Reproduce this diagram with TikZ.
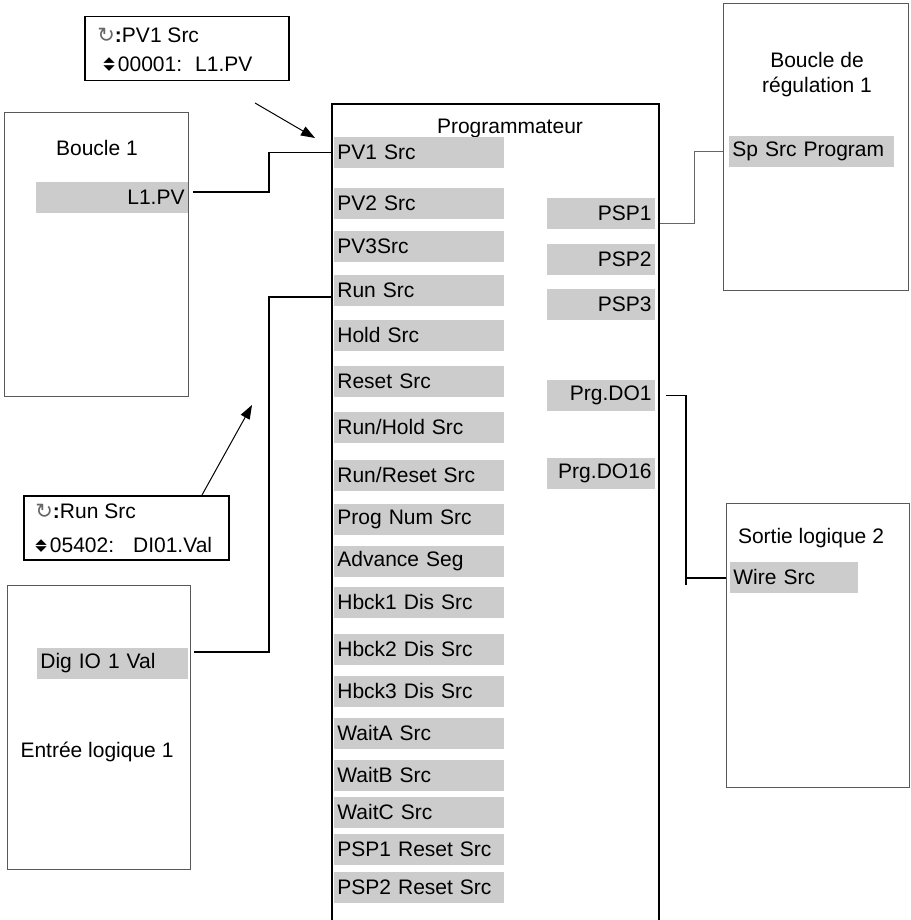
\documentclass[tikz,border=0pt]{standalone}
\usepackage{fontspec}
\usepackage{graphicx}
\setmainfont{Liberation Sans}
\newfontfamily\dejavu{DejaVu Sans}
\usepackage{tikz}
\usetikzlibrary{arrows.meta}

\definecolor{barfill}{RGB}{204,204,204}
\newcommand{\boucleicon}{{\dejavu\color{black!60}↻}}
\newcommand{\fleches}{{\dejavu\fontsize{7.5}{7.5}\selectfont%
  \rlap{\raisebox{4.2pt}{\scalebox{1}[0.5]{▲}}}\raisebox{0.6pt}{\scalebox{1}[0.5]{▼}}}}

\tikzset{
  bar/.style={fill=barfill, inner xsep=1.5pt, inner ysep=0pt, minimum height=15.5pt},
  lbar/.style={bar, anchor=west, text width=#1, align=left},
  rbar/.style={bar, anchor=east, text width=#1, align=right},
  block/.style={draw=black!65, line width=0.5pt, inner sep=0pt, anchor=north west},
  callout/.style={draw, line width=0.75pt, inner sep=0pt, anchor=north west},
  txt/.style={anchor=west, inner sep=0pt},
  wire/.style={line width=0.7pt},
  pointer/.style={-{Triangle[length=7pt,width=5pt]}, line width=0.5pt}
}

\begin{document}
\begin{tikzpicture}[x=0.5pt, y=-0.5pt, font=\fontsize{10.5}{12.5}\selectfont]
    \useasboundingbox (0,0) rectangle (910,920);

    % programmateur
    \node[draw, line width=1pt, inner sep=0pt, anchor=north west,
          minimum width=163.5pt, minimum height=415pt] (prog) at (331,103) {};
    \node at (510,128) {Programmateur};
    \foreach \y/\n/\t in {152.5/pv1/PV1 Src, 203/pv2/PV2 Src, 246.5/pv3/PV3Src,
        290/run/Run Src, 335/hold/Hold Src, 381.5/reset/Reset Src,
        427/runhold/{Run/Hold Src}, 475/runreset/{Run/Reset Src},
        519/prognum/Prog Num Src, 561/advance/Advance Seg,
        602/hbck1/Hbck1 Dis Src, 649/hbck2/Hbck2 Dis Src, 691/hbck3/Hbck3 Dis Src,
        733/waita/WaitA Src, 775/waitb/WaitB Src, 812/waitc/WaitC Src,
        849/psp1rst/PSP1 Reset Src, 887/psp2rst/PSP2 Reset Src}
      {\node[lbar=82pt] (\n) at (334,\y) {\t};}
    \foreach \y/\n/\t in {213.5/psp1/PSP1, 259.5/psp2/PSP2, 304.5/psp3/PSP3,
        395.5/do1/Prg.DO1, 473.5/do16/Prg.DO16}
      {\node[rbar=51pt] (\n) at (655,\y) {\t};}

    % blocs autour
    \node[block, minimum width=92pt, minimum height=142pt] (boucle) at (4,112) {};
    \node at (97,148) {Boucle 1};
    \node[rbar=73pt] (l1pv) at (188,197) {L1.PV};

    \node[block, minimum width=92.5pt, minimum height=143.5pt] (regul) at (723,3) {};
    \node[align=center] at (817,75) {Boucle de\\régulation 1};
    \node[lbar=79.5pt] (sp) at (729,151.5) {Sp Src Program};

    \node[block, minimum width=91.5pt, minimum height=142pt] (entree) at (7,585) {};
    \node at (97,752) {Entrée logique 1};
    \node[lbar=72.5pt] (digio) at (37,663) {Dig IO 1 Val};

    \node[block, minimum width=91.5pt, minimum height=142pt] (sortie) at (726,503) {};
    \node at (811,538) {Sortie logique 2};
    \node[lbar=61pt] (wire) at (730,577) {Wire Src};

    % fenetres
    \node[callout, minimum width=102pt, minimum height=32pt] (pvcall) at (84,16) {};
    \node[txt] at (97,35) {\boucleicon\textbf{:}PV1 Src};
    \node[txt] at (103,64) {\fleches\hspace{1.5pt}00001:\hspace{6.5pt}L1.PV};
    \node[callout, minimum width=102.5pt, minimum height=32pt] (runcall) at (23,495) {};
    \node[txt] at (35,511) {\boucleicon\textbf{:}Run Src};
    \node[txt] at (35,545) {\fleches\hspace{1.5pt}05402:\hspace{9.5pt}DI01.Val};

    \draw[pointer] (255,103) -- (315,138);
    \draw[pointer] (runcall.north -| 202,0) -- (252,405);

    % liaisons
    \draw[wire] ([shift={(2.5pt,2.5pt)}]l1pv.east) -| (269,152.5) -- (prog.west |- pv1.west);
    \draw[wire] ([shift={(2.5pt,5.5pt)}]digio.east) -| (269,297) -- (prog.west |- 0,297);
    \draw[black!60, line width=0.5pt] (prog.east |- 0,223) -- (694,223) |- (regul.west |- sp.west);
    \draw[wire] (do1.east) ++(11,0) -| (686,585);
    \draw[wire] (686,578) -- (sortie.west |- 0,578);
\end{tikzpicture}
\end{document}
